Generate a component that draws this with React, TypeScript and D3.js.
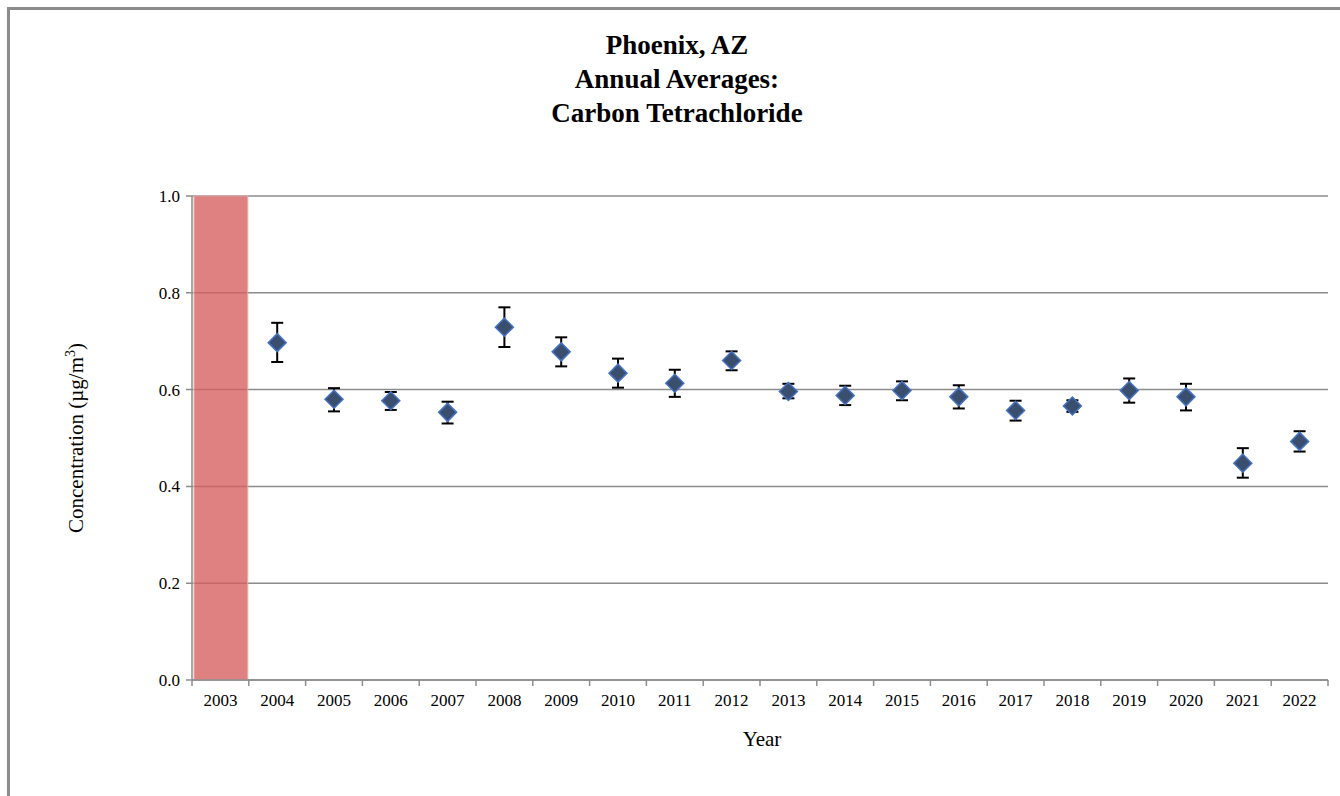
import React from 'react';
import * as d3 from 'd3';

const years = ['2003', '2004', '2005', '2006', '2007', '2008', '2009', '2010', '2011', '2012', '2013', '2014', '2015', '2016', '2017', '2018', '2019', '2020', '2021', '2022'];
const means = [null, 0.697, 0.58, 0.577, 0.553, 0.729, 0.678, 0.634, 0.613, 0.66, 0.596, 0.588, 0.598, 0.585, 0.557, 0.566, 0.598, 0.585, 0.448, 0.493];
const lows = [null, 0.657, 0.555, 0.558, 0.53, 0.688, 0.648, 0.604, 0.585, 0.64, 0.582, 0.568, 0.578, 0.561, 0.536, 0.554, 0.573, 0.557, 0.418, 0.472];
const highs = [null, 0.738, 0.603, 0.595, 0.575, 0.77, 0.708, 0.664, 0.641, 0.679, 0.612, 0.608, 0.617, 0.609, 0.577, 0.578, 0.623, 0.612, 0.479, 0.514];
const shadedYears = ['2003'];
const yTicks = [0, 0.2, 0.4, 0.6, 0.8, 1.0];

const W = 1340, H = 796;
const left = 192, right = 1328, top = 196, bottom = 680;
const font = '"Liberation Serif", "Times New Roman", serif';

export default function App() {
  const x = d3.scaleBand().domain(years).range([left, right]);
  const y = d3.scaleLinear().domain([0, 1]).range([bottom, top]);
  const bw = x.bandwidth();
  const d = 9;
  return (
    <svg width={W} height={H} style={{ position: 'absolute', left: 0, top: 0, fontFamily: font }}>
      <rect x={0} y={0} width={W} height={H} fill="#fff" />
      <path d={`M8.5,${H} V8.5 H${W}`} fill="none" stroke="#8c8c8c" strokeWidth={3} />
      <g fontWeight="bold" fontSize={27} textAnchor="middle">
        <text x={677} y={54}>Phoenix, AZ</text>
        <text x={677} y={88}>Annual Averages:</text>
        <text x={677} y={122}>Carbon Tetrachloride</text>
      </g>
      {yTicks.map(t => (
        <g key={t}>
          <line x1={left - 6} x2={right} y1={y(t)} y2={y(t)} stroke="#8c8c8c" strokeWidth={1.5} />
          <text x={left - 12} y={y(t) + 6} fontSize={17} textAnchor="end">{t.toFixed(1)}</text>
        </g>
      ))}
      {shadedYears.map(s => (
        <rect key={s} x={x(s)! + 2} y={y(1)} width={bw - 3} height={y(0) - y(1)} fill="#d75e5e" fillOpacity={0.78} stroke="#e8b0b0" />
      ))}
      <line x1={left} x2={left} y1={top} y2={bottom} stroke="#8c8c8c" strokeWidth={1.5} />
      <line x1={left} x2={right} y1={bottom} y2={bottom} stroke="#8c8c8c" strokeWidth={1.5} />
      {d3.range(years.length + 1).map(i => (
        <line key={i} x1={left + i * bw} x2={left + i * bw} y1={bottom} y2={bottom + 6} stroke="#8c8c8c" strokeWidth={1.5} />
      ))}
      {years.map(yr => (
        <text key={yr} x={x(yr)! + bw / 2} y={bottom + 26} fontSize={17} textAnchor="middle">{yr}</text>
      ))}
      {years.map((yr, i) => {
        const m = means[i];
        if (m == null) return null;
        const cx = x(yr)! + bw / 2;
        const cy = y(m);
        return (
          <g key={yr}>
            <line x1={cx} x2={cx} y1={y(lows[i]!)} y2={y(highs[i]!)} stroke="#000" strokeWidth={2} />
            <line x1={cx - 6} x2={cx + 6} y1={y(lows[i]!)} y2={y(lows[i]!)} stroke="#000" strokeWidth={2} />
            <line x1={cx - 6} x2={cx + 6} y1={y(highs[i]!)} y2={y(highs[i]!)} stroke="#000" strokeWidth={2} />
            <path d={`M${cx},${cy - d} L${cx + d},${cy} L${cx},${cy + d} L${cx - d},${cy} Z`} fill="#3a4f6e" stroke="#4472c4" strokeWidth={1.5} />
          </g>
        );
      })}
      <text x={762} y={746} fontSize={21} textAnchor="middle">Year</text>
      <text transform={`translate(83,438) rotate(-90)`} fontSize={21} textAnchor="middle">
        Concentration (µg/m<tspan dy={-8} fontSize={14}>3</tspan><tspan dy={8}>)</tspan>
      </text>
    </svg>
  );
}
